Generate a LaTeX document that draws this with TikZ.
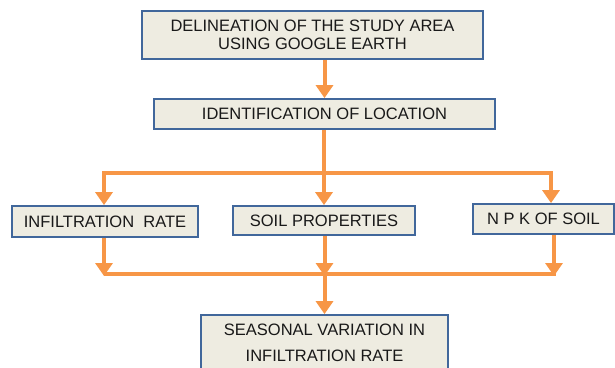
\documentclass[tikz,border=0pt]{standalone}
\usepackage{fontspec}
\setmainfont{Liberation Sans}
\usetikzlibrary{arrows.meta,positioning}
\definecolor{boxfill}{HTML}{EEECE1}
\definecolor{boxline}{HTML}{41679B}
\definecolor{flowline}{HTML}{F79646}

\begin{document}
\begin{tikzpicture}[x=1pt, y=-1pt,
    every node/.style={font=\fontsize{16.5}{17.5}\selectfont, text=black!90},
    stepbox/.style={draw=boxline, line width=1.8pt, fill=boxfill, inner sep=0pt, align=center},
    flow/.style={draw=flowline, line width=4pt, -{Triangle[width=17pt,length=13pt]}},
    bar/.style={draw=flowline, line width=4pt}]
  \useasboundingbox (0,0) rectangle (615,367);
  \clip (0,0) rectangle (615,367);

  % ============ TOP: STUDY AREA AND LOCATION ============
  \node[stepbox, minimum width=341pt, minimum height=48pt] (area) at (312.5,35)
    {DELINEATION OF THE STUDY AREA\\USING GOOGLE EARTH};
  \node[stepbox, minimum width=341pt, minimum height=30pt] (loc) at (324.5,114)
    {IDENTIFICATION OF LOCATION};
  \draw[flow] (area.south -| loc.north) -- (loc.north);

  % ============ MIDDLE: THREE PARAMETERS ============
  \node[stepbox, minimum width=186pt, minimum height=31pt] (infil) at (105,221.5)
    {INFILTRATION\ \ RATE};
  \node[stepbox, minimum width=182pt, minimum height=29pt] (soil) at (324,220.5)
    {SOIL PROPERTIES};
  \node[stepbox, minimum width=141pt, minimum height=30pt] (npk) at (543.5,219)
    {N P K OF SOIL};

  % split line under the location box
  \coordinate (splitL) at (104,173);
  \coordinate (splitR) at (551,173);
  \draw[bar] (splitL) -- (splitR);
  \draw[flow] (loc.south -| soil.north) -- (soil.north);
  \draw[flow] ([yshift=2pt]splitL) -- (splitL |- infil.north);
  \draw[flow] ([yshift=2pt]splitR) -- (splitR |- npk.north);

  % ============ BOTTOM: SEASONAL VARIATION ============
  \node[stepbox, minimum width=247pt, minimum height=56pt, font=\fontsize{16.5}{26}\selectfont]
    (season) at (324.5,343) {SEASONAL VARIATION IN\\INFILTRATION RATE};

  % join line above the seasonal box
  \coordinate (joinL) at (104,274);
  \coordinate (joinR) at (556,274);
  \draw[bar] (joinL) -- (joinR);
  \draw[flow] (infil.south -| joinL) -- ([yshift=-2pt]joinL);
  \draw[flow] (soil.south -| season.north) -- ([yshift=-2pt]joinL -| season.north);
  \draw[flow] (npk.south -| 554,0) -- ([yshift=-2pt]554,274);
  \draw[flow] (joinL -| season.north) -- (season.north);
\end{tikzpicture}
\end{document}
